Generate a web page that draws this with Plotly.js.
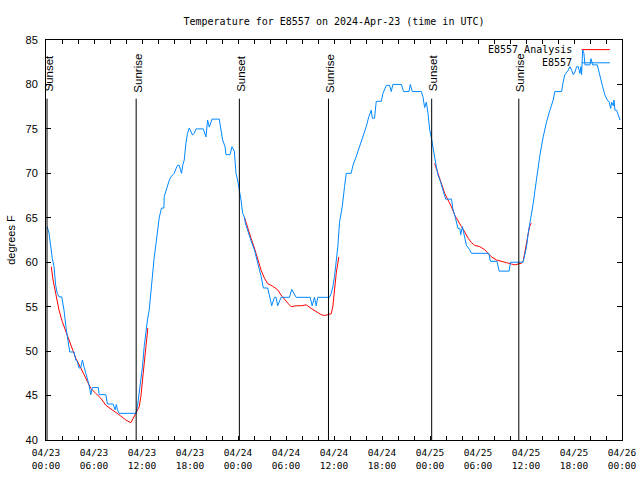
<!DOCTYPE html>
<html>
<head>
<meta charset="utf-8">
<script src="https://cdn.plot.ly/plotly-3.0.1.min.js"></script>
<style>html,body{margin:0;padding:0;background:#fff;}#chart{width:640px;height:480px;}</style>
</head>
<body>
<div id="chart"></div>
<script>
// Hours since 2024-04-23 00:00 UTC
const obsHours = [
 0.16,0.38,0.79,1.0,1.21,1.41,1.63,1.97,2.04,2.25,2.54,2.67,2.97,3.5,3.72,3.92,4.13,4.34,4.55,4.76,
 4.97,5.17,5.38,5.6,5.8,6.55,6.64,7.48,7.68,8.39,8.64,8.8,8.93,9.14,11.23,11.43,11.65,11.86,12.06,12.27,
 12.48,12.68,12.9,13.11,13.31,13.52,13.74,13.94,14.15,14.44,14.74,14.78,14.99,15.19,15.4,15.62,16.03,16.24,16.44,16.65,
 16.94,17.09,17.28,17.49,17.69,17.91,18.12,18.32,18.53,18.75,18.95,19.66,20.0,20.1,20.2,20.41,20.75,21.66,21.88,22.08,
 22.38,22.5,23.0,23.25,23.54,23.75,23.95,24.17,24.38,24.58,24.79,24.92,25.21,25.63,26.05,26.46,26.89,27.17,27.71,27.92,
 28.21,28.55,28.76,28.96,29.39,30.43,30.72,30.99,31.27,33.02,33.27,33.56,33.77,33.97,35.44,35.65,35.85,36.06,36.28,36.48,
 36.69,37.03,37.32,37.53,38.15,38.36,38.78,39.19,39.61,40.03,40.36,40.66,40.79,41.07,41.28,41.91,42.12,42.54,42.95,43.16,
 43.36,44.42,44.7,45.37,45.54,45.79,46.92,47.12,47.33,47.54,47.75,47.96,48.17,48.37,48.58,48.8,49.0,49.3,49.62,49.96,
 50.68,50.88,51.09,51.3,51.5,51.72,51.84,52.05,52.25,52.55,52.97,53.18,55.35,55.56,56.38,56.64,57.89,58.06,59.64,59.85,
 60.07,60.27,60.57,60.9,61.11,61.32,61.73,62.15,62.57,62.99,63.4,63.61,64.45,64.65,64.86,65.28,65.49,65.7,65.91,66.12,
 66.33,66.53,66.74,66.87,66.95,67.08,67.24,67.37,67.99,68.12,68.33,68.91,69.16,69.33,69.58,69.87,70.16,70.41,70.58,70.71,
 70.91,71.0,71.12,71.33,71.54,71.75
];
const obsTempF = [
 64.0,63.25,60.4,59.5,57.4,56.5,56.1,56.1,55.75,54.6,52.4,51.6,49.9,49.9,49.0,48.8,48.1,48.1,49.0,48.2,
 47.5,47.0,46.2,45.1,45.9,45.9,45.1,45.1,44.05,44.05,43.4,44.0,43.4,43.0,43.0,43.75,45.3,46.8,48.25,50.5,
 52.4,53.5,54.6,56.9,59.0,60.5,62.0,63.5,65.0,66.1,66.1,67.4,68.0,68.7,69.2,69.6,70.0,70.5,70.9,70.9,
 70.0,70.9,71.5,73.4,74.5,75.1,74.6,74.3,74.5,75.0,75.0,75.0,74.1,75.5,76.0,75.2,76.1,76.1,74.7,73.75,
 73.0,72.1,72.1,73.0,72.5,70.0,69.25,68.3,67.0,65.5,65.1,64.4,63.5,62.4,61.4,60.0,58.4,57.1,57.1,56.3,
 55.1,56.05,56.05,55.1,56.05,56.05,56.95,56.5,56.05,56.05,55.1,56.05,55.1,56.05,56.05,56.5,57.2,58.4,60.2,61.75,
 64.5,66.25,68.5,70.0,70.0,70.9,71.9,73.0,73.9,75.25,76.4,77.1,76.2,76.2,78.1,78.1,79.0,79.9,79.9,79.2,
 80.0,80.0,79.2,79.2,80.0,79.2,79.2,78.6,77.4,78.0,76.75,74.9,74.0,72.8,71.5,70.7,69.8,69.1,68.1,67.1,
 67.1,65.9,65.3,64.6,63.8,63.8,63.1,64.0,63.1,61.9,61.4,61.0,61.0,60.1,60.1,59.0,59.0,60.0,60.0,61.0,
 61.75,63.25,64.75,66.6,68.0,69.5,72.0,74.1,75.8,77.1,78.25,79.2,79.2,80.3,81.1,81.6,82.0,81.6,81.1,81.4,
 82.0,82.0,81.25,82.0,81.1,83.9,83.5,82.2,82.2,82.9,82.2,82.2,81.4,80.7,79.75,78.8,78.25,78.0,77.3,78.0,
 77.6,78.25,77.1,77.1,76.6,76.0
];

// Analysis (night-time) series; null separates the nights
const anaHours = [
 0.66,0.88,1.21,1.63,2.04,2.47,2.88,3.29,3.72,4.35,4.97,5.6,6.22,6.85,7.48,8.1,8.73,9.35,9.98,10.61,
 10.81,11.23,11.65,11.86,12.15,12.4,12.56,12.73,null,
 24.79,25.21,25.63,26.05,26.46,26.89,27.3,27.71,28.34,28.96,29.39,29.8,30.22,30.64,31.27,31.89,32.52,33.15,33.77,34.4,
 34.81,35.22,35.65,35.85,36.06,36.28,36.48,36.6,null,
 48.58,49.0,49.42,49.84,50.25,50.68,51.09,51.5,51.93,52.34,52.76,53.18,53.59,54.22,54.85,55.26,55.68,56.31,56.94,57.56,
 58.19,58.6,59.03,59.45,59.64,59.85,60.07,60.27,60.44,60.66
];
const anaTempF = [
 59.5,58.0,56.5,54.6,53.3,52.2,51.25,50.1,49.2,48.1,46.9,45.8,45.25,44.7,43.9,43.45,43.1,42.7,42.25,41.95,
 42.25,43.0,43.75,44.9,47.5,49.75,51.25,52.6,null,
 65.1,63.8,62.7,61.6,60.25,59.1,58.2,57.6,57.3,56.9,56.3,55.8,55.4,55.0,55.1,55.1,55.2,54.8,54.45,54.1,
 54.0,54.1,54.2,55.0,57.25,58.75,59.9,60.6,null,
 71.1,70.0,68.9,67.75,67.0,66.25,65.3,64.6,64.0,63.4,62.7,62.2,61.9,61.75,61.4,61.0,60.6,60.25,60.06,59.95,
 59.8,59.7,59.8,59.9,60.06,61.0,62.1,63.25,64.0,64.4
];

const eventHours = [0.13, 11.27, 24.17, 35.31, 48.21, 59.1];
const eventLabels = ["Sunset","Sunrise","Sunset","Sunrise","Sunset","Sunrise"];
const eventLineTop = 78.4;

const tickHours = [];
for (let h = 0; h <= 72; h += 2) tickHours.push(h);
const labelText = ["04/23<br>00:00","04/23<br>06:00","04/23<br>12:00","04/23<br>18:00",
 "04/24<br>00:00","04/24<br>06:00","04/24<br>12:00","04/24<br>18:00",
 "04/25<br>00:00","04/25<br>06:00","04/25<br>12:00","04/25<br>18:00","04/26<br>00:00"];
const tickText = tickHours.map(h => (h % 6 === 0) ? labelText[h / 6] : "");

const seriesNames = ["E8557 Analysis", "E8557"];
const seriesColors = ["#ff0000", "#0088ff"];

const mono = "DejaVu Sans Mono, monospace";
const sans = "Liberation Sans, Arial, sans-serif";

const traces = [
  {x: anaHours, y: anaTempF, type: "scatter", mode: "lines", name: seriesNames[0],
   line: {color: seriesColors[0], width: 1}, connectgaps: false, showlegend: false},
  {x: obsHours, y: obsTempF, type: "scatter", mode: "lines", name: seriesNames[1],
   line: {color: seriesColors[1], width: 1}, showlegend: false}
];

const shapes = eventHours.map(h => ({type: "line", xref: "x", yref: "y", x0: h, x1: h, y0: 40, y1: eventLineTop,
  line: {color: "#000", width: 1}}));
const annotations = eventHours.map((h, i) => ({x: h, y: 0.9175, xref: "x", yref: "paper", text: eventLabels[i],
  textangle: -90, showarrow: false, xshift: 1.5, yanchor: "middle", xanchor: "center",
  font: {family: sans, size: 11.5, color: "#000"}}));

// legend (gnuplot-style: text then line sample)
const legY = [0.976, 0.943];
seriesNames.forEach((n, i) => {
  annotations.push({x: 0.917, y: legY[i], xref: "paper", yref: "paper", xanchor: "right", yanchor: "middle",
    text: n, showarrow: false, font: {family: mono, size: 10, color: "#000"}});
  shapes.push({type: "line", xref: "paper", yref: "paper", x0: 0.930, x1: 0.979, y0: legY[i], y1: legY[i],
    line: {color: seriesColors[i], width: 1}});
});

const layout = {
  width: 640, height: 480,
  margin: {l: 46, r: 18, t: 40, b: 40, pad: 0},
  paper_bgcolor: "#fff", plot_bgcolor: "#fff",
  title: {text: "Temperature for E8557 on 2024-Apr-23 (time in UTC)", x: 0.5, xref: "paper",
    y: 0.956, yanchor: "middle", font: {family: mono, size: 10, color: "#000"}},
  xaxis: {range: [0, 72], tickvals: tickHours, ticktext: tickText, ticks: "inside", ticklen: 4,
    tickcolor: "#000", showline: true, linecolor: "#000", linewidth: 1, mirror: "allticks",
    showgrid: false, zeroline: false, tickangle: 0, ticklabelstandoff: 4,
    tickfont: {family: mono, size: 9.5, color: "#000"}},
  yaxis: {range: [40, 85], dtick: 5, tick0: 40, ticks: "inside", ticklen: 5, tickcolor: "#000",
    showline: true, linecolor: "#000", linewidth: 1, mirror: "allticks", showgrid: false, zeroline: false,
    ticklabelstandoff: 5,
    tickfont: {family: sans, size: 11, color: "#000"},
    title: {text: "degrees F", standoff: 7, font: {family: sans, size: 11, color: "#000"}}},
  shapes: shapes,
  annotations: annotations,
  showlegend: false
};

Plotly.newPlot("chart", traces, layout, {displayModeBar: false, staticPlot: true});
</script>
</body>
</html>
